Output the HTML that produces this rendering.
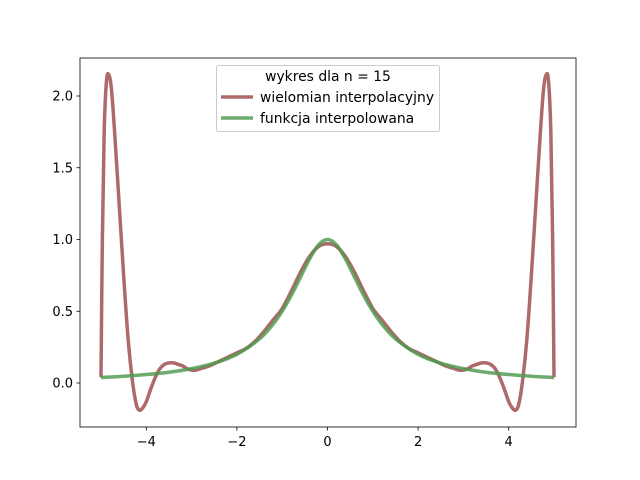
<!DOCTYPE html>
<html><head><meta charset="utf-8"><style>
body{margin:0;background:#fff}
svg{display:block;font-family:"DejaVu Sans","Liberation Sans",sans-serif}
</style></head><body>
<svg id="chart" width="640" height="480">
<rect x="0" y="0" width="640" height="480" fill="#fff"/>
<g id="plot"></g>
</svg>
<script>
const xTicks=[-4,-2,0,2,4];
const xTickLabels=["−4","−2","0","2","4"];
const yTicks=[0,0.5,1,1.5,2];
const yTickLabels=["0.0","0.5","1.0","1.5","2.0"];
const polyX=[-5,-4.97,-4.93,-4.88,-4.83,-4.77,-4.7,-4.6,-4.5,-4.4,-4.3,-4.22,-4.15,-4.07,-4.0,-3.9,-3.8,-3.7,-3.6,-3.5,-3.4,-3.3,-3.2,-3.1,-3.0,-2.9,-2.8,-2.6,-2.4,-2.2,-2.0,-1.8,-1.6,-1.4,-1.2,-1.0,-0.8,-0.6,-0.4,-0.2,0,0.2,0.4,0.6,0.8,1.0,1.2,1.4,1.6,1.8,2.0,2.2,2.4,2.6,2.8,2.9,3.0,3.1,3.2,3.3,3.4,3.5,3.6,3.7,3.8,3.9,4.0,4.07,4.15,4.22,4.3,4.4,4.5,4.6,4.7,4.77,4.83,4.88,4.93,4.97,5];
const polyY=[0.04,1.0,1.75,2.1,2.15,2.05,1.75,1.25,0.75,0.3,0.0,-0.15,-0.19,-0.17,-0.13,-0.04,0.04,0.1,0.13,0.14,0.14,0.13,0.12,0.1,0.09,0.09,0.1,0.12,0.15,0.18,0.21,0.24,0.29,0.36,0.44,0.52,0.64,0.77,0.88,0.95,0.97,0.95,0.88,0.77,0.64,0.52,0.44,0.36,0.29,0.24,0.21,0.18,0.15,0.12,0.1,0.09,0.09,0.1,0.12,0.13,0.14,0.14,0.13,0.1,0.04,-0.04,-0.13,-0.17,-0.19,-0.15,0.0,0.3,0.75,1.25,1.75,2.05,2.15,2.1,1.75,1.0,0.04];
const funcX=[-5,-4.5,-4,-3.5,-3,-2.5,-2,-1.5,-1.2,-1,-0.8,-0.6,-0.4,-0.2,0,0.2,0.4,0.6,0.8,1,1.2,1.5,2,2.5,3,3.5,4,4.5,5];
const funcY=[0.038,0.047,0.059,0.075,0.1,0.138,0.2,0.308,0.41,0.5,0.61,0.735,0.862,0.962,1.0,0.962,0.862,0.735,0.61,0.5,0.41,0.308,0.2,0.138,0.1,0.075,0.059,0.047,0.038];

const X0=80,X1=576,Y0=58,Y1=427;
const sx=v=>327.5+v*45.3;
const sy=v=>383+(-v)*143.5;
const NS="http://www.w3.org/2000/svg";
const g=document.getElementById('plot');
function mk(t,a,txt){const e=document.createElementNS(NS,t);for(const k in a)e.setAttribute(k,a[k]);if(txt!==undefined)e.textContent=txt;g.appendChild(e);return e;}
function smooth(xs,ys){const p=xs.map((x,i)=>[sx(x),sy(ys[i])]);let d=`M${p[0][0]},${p[0][1]}`;
for(let i=0;i<p.length-1;i++){const a=p[i-1]||p[i],b=p[i],c=p[i+1],e=p[i+2]||c;
d+=` C${b[0]+(c[0]-a[0])/6},${b[1]+(c[1]-a[1])/6} ${c[0]-(e[0]-b[0])/6},${c[1]-(e[1]-b[1])/6} ${c[0]},${c[1]}`;}return d;}

let e=mk('path',{d:smooth(polyX,polyY),fill:'none',stroke:'#a05050','stroke-opacity':0.85,'stroke-width':3.5});

e=mk('path',{d:smooth(funcX,funcY),fill:'none',stroke:'#4e9a4e','stroke-opacity':0.82,'stroke-width':3.5});


e=mk('rect',{x:X0,y:Y0,width:X1-X0,height:Y1-Y0,fill:'none',stroke:'#000','stroke-width':0.8});

xTicks.forEach((t,i)=>{const x=sx(t);
 let l=mk('line',{x1:x,x2:x,y1:Y1,y2:Y1+3.5,stroke:'#000','stroke-width':0.8});
 
 let s=mk('text',{x:x,y:Y1+19,'font-size':13,'text-anchor':'middle'},xTickLabels[i]);
 });
yTicks.forEach((t,i)=>{const y=sy(t);
 let l=mk('line',{x1:X0-3.5,x2:X0,y1:y,y2:y,stroke:'#000','stroke-width':0.8});
 
 let s=mk('text',{x:X0-7,y:y+4.7,'font-size':13,'text-anchor':'end'},yTickLabels[i]);
 });

e=mk('rect',{x:216.5,y:65.5,width:223,height:66,rx:2,fill:'#fff','fill-opacity':0.8,stroke:'#ccc'});

e=mk('text',{x:328,y:81,'font-size':13.9,'text-anchor':'middle'},'wykres dla n = 15');

e=mk('line',{x1:221,x2:253,y1:97,y2:97,stroke:'#a05050','stroke-opacity':0.85,'stroke-width':3.5});

e=mk('text',{x:260,y:102,'font-size':13.9},'wielomian interpolacyjny');

e=mk('line',{x1:221,x2:253,y1:118,y2:118,stroke:'#4e9a4e','stroke-opacity':0.82,'stroke-width':3.5});

e=mk('text',{x:260,y:123,'font-size':13.9},'funkcja interpolowana');

</script>
</body></html>
